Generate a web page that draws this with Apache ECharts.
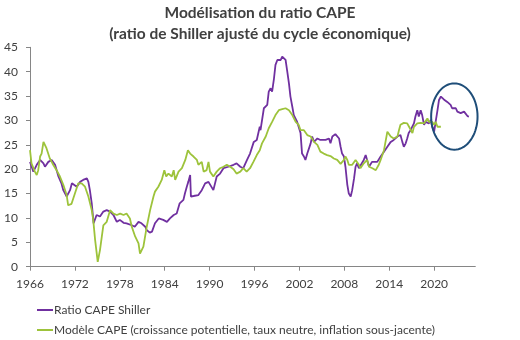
<!DOCTYPE html>
<html><head><meta charset="utf-8">
<script src="https://cdn.jsdelivr.net/npm/echarts@6/dist/echarts.min.js"></script>
<style>html,body{margin:0;padding:0;background:#fff}#c{width:520px;height:340px}</style>
</head><body><div id="c"></div>
<script>
const titleLines = ["Modélisation du ratio CAPE", "(ratio de Shiller ajusté du cycle économique)"];
const seriesNames = ["Ratio CAPE Shiller", "Modèle CAPE (croissance potentielle, taux neutre, inflation sous-jacente)"];
const xTickYears = [1966, 1972, 1978, 1984, 1990, 1996, 2002, 2008, 2014, 2020];

const shillerYears = [1966.0,1966.45,1966.9,1967.35,1967.8,1968.0,1968.45,1968.9,1969.35,1969.8,1970.2,1970.45,1970.9,1971.35,1971.6,1971.8,1972.25,1972.7,1973.1,1973.6,1973.8,1974.0,1974.25,1974.5,1974.9,1975.35,1975.8,1976.25,1976.7,1977.15,1977.6,1978.0,1978.5,1978.9,1979.6,1980.0,1980.5,1980.9,1981.4,1981.6,1982.0,1982.3,1982.7,1983.2,1983.8,1984.3,1984.7,1985.2,1985.6,1986.0,1986.5,1986.7,1986.95,1987.15,1987.4,1987.5,1987.85,1988.5,1988.95,1989.4,1989.85,1990.05,1990.5,1990.95,1991.4,1991.85,1992.5,1993.2,1993.6,1994.1,1994.5,1995.0,1995.4,1995.9,1996.3,1996.7,1996.8,1997.25,1997.7,1997.9,1998.15,1998.35,1998.6,1998.8,1999.05,1999.5,1999.7,1999.9,2000.15,2000.35,2000.6,2000.8,2001.05,2001.25,2001.7,2001.9,2002.15,2002.35,2002.6,2002.8,2003.05,2003.5,2003.7,2003.95,2004.4,2004.8,2005.05,2005.5,2005.7,2005.95,2006.15,2006.4,2006.8,2007.3,2007.5,2007.7,2007.95,2008.15,2008.4,2008.6,2008.85,2009.05,2009.3,2009.5,2009.7,2009.95,2010.15,2010.6,2010.85,2011.05,2011.3,2011.5,2011.7,2011.95,2012.4,2012.85,2013.3,2013.75,2014.2,2014.6,2015.1,2015.5,2015.75,2015.95,2016.2,2016.4,2016.6,2016.85,2017.3,2017.5,2017.75,2017.95,2018.2,2018.4,2018.65,2018.85,2019.3,2019.55,2019.75,2020.0,2020.2,2020.45,2020.65,2020.9,2021.3,2021.75,2022.2,2022.4,2022.9,2023.1,2023.55,2024.0,2024.2,2024.45,2024.65];
const shillerValues = [21.5,19.5,20.9,21.9,21.2,20.5,21.5,21.9,20.9,18.5,17.1,15.7,14.4,15.7,17.1,17.4,16.4,17.4,17.8,18.1,17.4,15.7,13.0,8.9,10.6,10.3,11.3,11.6,11.3,10.6,9.2,9.6,9.0,8.9,8.5,8.2,9.2,8.9,8.2,7.5,7.0,7.2,8.9,9.9,9.6,9.2,9.9,10.6,10.9,13.0,13.7,15.0,16.4,17.4,18.8,14.4,14.5,14.7,15.7,17.1,17.4,17.1,15.7,18.5,19.1,20.2,20.5,20.9,21.2,20.5,20.2,21.9,23.2,25.6,26.0,28.7,28.0,32.5,33.2,35.9,36.6,35.9,38.6,41.4,42.4,42.4,43.1,42.7,42.4,40.3,37.6,34.9,32.8,31.1,29.7,30.1,27.4,23.2,22.6,21.9,23.2,25.3,26.7,25.6,26.3,26.0,26.1,26.0,25.6,26.3,25.3,26.7,27.2,26.3,24.6,23.2,22.6,20.5,16.8,15.0,14.4,15.7,18.1,20.5,21.2,20.2,20.5,21.9,22.9,22.6,20.5,20.9,21.5,21.2,21.5,22.6,23.6,24.6,25.6,26.0,26.7,27.0,25.6,24.6,25.3,26.3,27.4,28.0,29.4,30.8,32.1,30.8,32.1,31.1,29.1,29.7,29.4,30.1,28.7,27.7,29.7,32.1,34.2,34.9,34.3,33.8,33.2,32.5,32.5,31.8,31.5,31.8,31.5,30.9,30.8];

const modelYears = [1966.0,1966.2,1966.65,1966.9,1967.1,1967.35,1967.55,1967.8,1968.2,1968.65,1968.9,1969.1,1969.55,1970.0,1970.45,1970.9,1971.1,1971.55,1972.0,1972.45,1972.9,1973.35,1973.8,1974.25,1974.45,1974.7,1975.05,1975.35,1975.8,1976.25,1976.7,1977.15,1977.6,1978.05,1978.5,1978.9,1979.35,1979.6,1980.05,1980.5,1980.7,1980.95,1981.15,1981.6,1982.05,1982.5,1982.7,1983.15,1983.6,1983.95,1984.2,1984.5,1984.95,1985.2,1985.4,1985.85,1986.3,1986.75,1987.1,1987.4,1987.85,1988.3,1988.5,1988.95,1989.2,1989.6,1989.85,1990.05,1990.5,1990.95,1991.4,1991.85,1992.3,1992.75,1993.2,1993.6,1994.1,1994.5,1994.95,1995.4,1995.85,1996.3,1996.7,1997.0,1997.5,1997.9,1998.35,1998.8,1999.25,1999.5,1999.7,2000.15,2000.6,2001.05,2001.5,2001.9,2002.15,2002.35,2002.6,2003.05,2003.5,2003.95,2004.4,2004.8,2005.25,2005.7,2005.95,2006.15,2006.6,2007.05,2007.5,2007.95,2008.15,2008.4,2008.6,2009.05,2009.5,2009.7,2009.95,2010.15,2010.6,2011.05,2011.3,2011.75,2011.95,2012.2,2012.6,2012.85,2013.3,2013.75,2013.95,2014.2,2014.6,2015.1,2015.3,2015.5,2015.95,2016.4,2016.65,2017.1,2017.3,2017.75,2018.2,2018.65,2019.1,2019.3,2019.55,2019.75,2020.0,2020.2,2020.45,2020.9];
const modelValues = [23.9,21.2,19.5,18.8,19.8,22.6,23.2,25.6,24.3,22.2,21.5,20.9,19.8,18.5,16.8,14.7,12.6,12.9,15.0,17.1,17.1,16.4,14.4,11.6,9.6,5.5,1.0,3.4,8.5,9.2,11.6,10.9,10.6,10.9,10.6,10.9,9.9,8.2,6.2,4.8,2.7,2.4,4.1,8.2,11.6,14.4,15.4,16.4,17.8,19.8,18.5,19.1,18.5,19.8,17.8,19.5,20.2,21.9,23.9,23.2,22.6,21.9,20.9,21.5,19.5,19.8,21.5,19.5,18.5,19.5,20.2,20.5,20.9,20.5,20.0,19.1,19.5,20.2,19.5,20.2,21.5,22.9,23.9,25.3,26.7,28.4,29.7,31.1,32.1,31.8,32.3,32.5,32.1,31.1,29.7,29.1,28.0,27.7,28.0,27.0,26.7,25.6,25.0,23.6,23.2,22.9,22.6,22.7,22.2,21.9,21.1,21.9,22.6,21.9,20.9,20.9,21.9,22.2,20.9,20.2,21.2,21.9,20.5,20.2,20.5,19.8,20.9,21.9,23.9,27.7,28.0,26.7,26.3,26.7,28.0,29.1,29.5,29.4,28.7,27.4,28.7,29.4,29.5,29.4,30.4,29.7,30.1,29.7,29.1,29.7,28.7,28.7];

const highlightCenter = [2022.7, 30.8];
const highlightRadius = [3.1, 6.8];

const chart = echarts.init(document.getElementById('c'), null, {renderer: 'canvas'});
const FONT = 'Lato';
const zip = (xs, ys) => xs.map((x, i) => [x, ys[i]]);

chart.setOption({
  animation: false,
  backgroundColor: '#ffffff',
  title: {
    text: titleLines.join('\n'),
    left: 'center', top: 2, padding: 0,
    textStyle: {fontFamily: FONT, fontSize: 15.5, fontWeight: 'bold', color: '#404040', lineHeight: 21}
  },
  grid: {left: 30, right: 44.7, top: 47.3, bottom: 73.3, containLabel: false},
  xAxis: {
    type: 'value', min: 1966, max: 2025.5,
    axisLine: {show: true, lineStyle: {color: '#868686', width: 1}},
    axisTick: {show: true, length: 4, lineStyle: {color: '#868686'}, customValues: xTickYears},
    axisLabel: {customValues: xTickYears, formatter: v => String(Math.round(v)), color: '#404040', fontFamily: FONT, fontSize: 12, margin: 11},
    splitLine: {show: false}
  },
  yAxis: {
    type: 'value', min: 0, max: 45, interval: 5,
    axisLine: {show: true, lineStyle: {color: '#868686', width: 1}},
    axisTick: {show: true, length: 4, lineStyle: {color: '#868686'}},
    axisLabel: {color: '#404040', fontFamily: FONT, fontSize: 12, margin: 12},
    splitLine: {show: false}
  },
  legend: {
    orient: 'vertical', left: 37, top: 303, padding: 0, height: 40,
    icon: 'rect', itemWidth: 16, itemHeight: 2, itemGap: 6,
    textStyle: {fontFamily: FONT, fontSize: 12, color: '#404040', lineHeight: 14, padding: [0, 0, 0, -4]},
    data: seriesNames
  },
  series: [
    {name: seriesNames[0], type: 'line', data: zip(shillerYears, shillerValues), showSymbol: false,
     lineStyle: {color: '#7030A0', width: 1.8}, itemStyle: {color: '#7030A0'}},
    {name: seriesNames[1], type: 'line', data: zip(modelYears, modelValues), showSymbol: false,
     lineStyle: {color: '#9DC33B', width: 1.8}, itemStyle: {color: '#9DC33B'}}
  ]
});

const c = chart.convertToPixel({gridIndex: 0}, highlightCenter);
const e = chart.convertToPixel({gridIndex: 0}, [highlightCenter[0] + highlightRadius[0], highlightCenter[1] + highlightRadius[1]]);
const rx = Math.abs(e[0] - c[0]), ry = Math.abs(e[1] - c[1]);
const pts = [];
for (let i = 0; i < 72; i++) { const a = i / 72 * Math.PI * 2; pts.push([c[0] + rx * Math.cos(a), c[1] + ry * Math.sin(a)]); }
chart.setOption({graphic: [{type: 'polygon', shape: {points: pts}, style: {fill: 'none', stroke: '#1F4E79', lineWidth: 2}, z: 100}]});
</script></body></html>
